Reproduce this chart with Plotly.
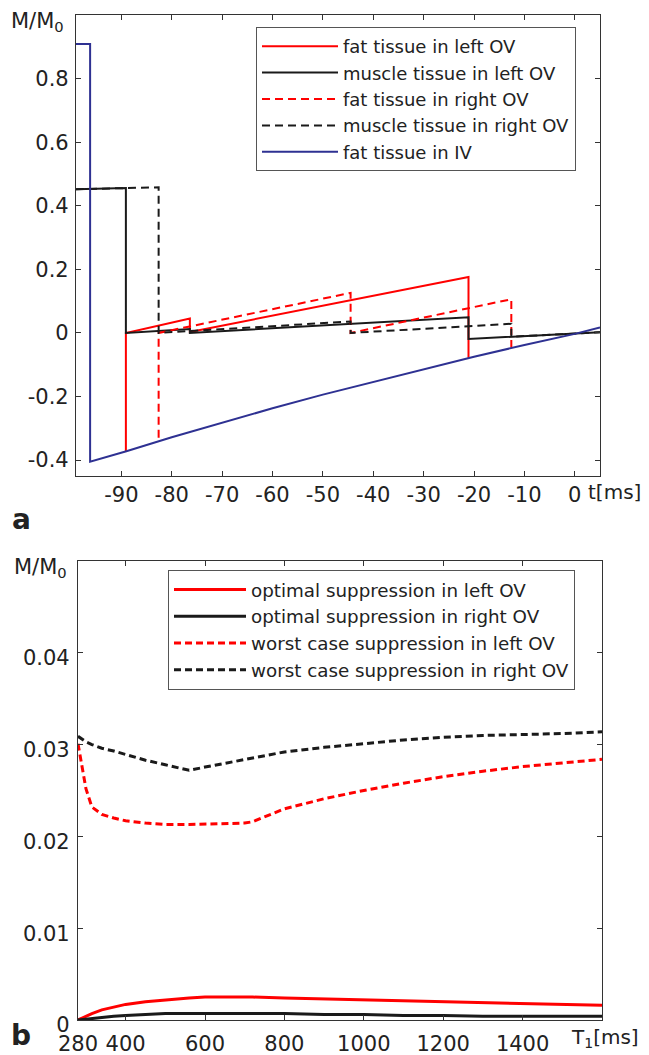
import plotly.graph_objects as go

# ---------------- Panel a data (t in ms, M/M0) ----------------
fat_left_t = [-89.1, -89.1, -76.4, -76.4, -21.1, -21.1]
fat_left_v = [-0.372, 0.0, 0.045, 0.003, 0.176, -0.078]

muscle_left_t = [-99, -89.1, -89.1, -76.4, -76.4, -21.1, -21.1, -12.6, 5]
muscle_left_v = [0.452, 0.456, 0.0, 0.012, 0.0, 0.049, -0.019, -0.012, 0.002]

fat_right_t = [-82.6, -82.6, -44.5, -44.5, -12.6, -12.6]
fat_right_v = [-0.33, 0.0, 0.126, 0.0, 0.106, -0.046]

muscle_right_t = [-99, -82.6, -82.6, -44.5, -44.5, -12.6, -12.6, 5]
muscle_right_v = [0.452, 0.458, 0.0, 0.036, 0.0, 0.029, -0.012, 0.002]

fat_iv_t = [-99, -96.2, -96.2, -89, -80, -70, -60, -50, -40, -30, -20, -10, 0, 5]
fat_iv_v = [0.909, 0.909, -0.405, -0.372, -0.328, -0.282, -0.237, -0.194, -0.154, -0.114, -0.075, -0.038, -0.003, 0.017]

a_xticks = [-90, -80, -70, -60, -50, -40, -30, -20, -10, 0]
a_xticklabels = ["-90", "-80", "-70", "-60", "-50", "-40", "-30", "-20", "-10", "0"]
a_yticks = [-0.4, -0.2, 0, 0.2, 0.4, 0.6, 0.8]
a_yticklabels = ["-0.4", "-0.2", "0", "0.2", "0.4", "0.6", "0.8"]

# ---------------- Panel b data (T1 in ms, M/M0) ----------------
T1 = [280, 290, 300, 315, 340, 370, 400, 450, 500, 560, 600, 700, 720, 800, 900, 1000,
      1100, 1200, 1300, 1400, 1500, 1600]
opt_left = [0.0, 0.0002, 0.0004, 0.0007, 0.0011, 0.0014, 0.0017, 0.0020, 0.0022, 0.0024, 0.0025,
            0.0025, 0.0025, 0.0024, 0.0023, 0.0022, 0.0021, 0.0020, 0.0019, 0.0018, 0.0017, 0.0016]
opt_right = [0.0, 0.00005, 0.0001, 0.0002, 0.0003, 0.0004, 0.0005, 0.0006, 0.0007, 0.0007, 0.0007,
             0.0007, 0.0007, 0.0007, 0.0006, 0.0006, 0.0005, 0.0005, 0.0004, 0.0004, 0.0004, 0.0004]
worst_left = [0.0301, 0.0275, 0.0252, 0.0232, 0.0224, 0.0220, 0.0217, 0.02145, 0.0213, 0.0213, 0.02132,
              0.02145, 0.0216, 0.0230, 0.0241, 0.0250, 0.0258, 0.0265, 0.0271, 0.0276, 0.0280, 0.0284]
worst_right = [0.0309, 0.0306, 0.0303, 0.0300, 0.0296, 0.0293, 0.0289, 0.0283, 0.0278, 0.0272, 0.02755,
               0.02835, 0.0285, 0.0292, 0.0297, 0.0301, 0.0305, 0.0308, 0.0310, 0.0311, 0.0312, 0.0314]

b_xticks = [280, 400, 600, 800, 1000, 1200, 1400]
b_xticklabels = ["280", "400", "600", "800", "1000", "1200", "1400"]
b_yticks = [0, 0.01, 0.02, 0.03, 0.04]
b_yticklabels = ["0", "0.01", "0.02", "0.03", "0.04"]

# The page body adds an 8 px margin, so the figure is made 8 px smaller and
# screen positions are converted to figure-paper fractions.
OX, OY = 8, 8
W, H = 649 - OX, 1055 - OY


def fx(px):
    return (px - OX) / W


def fy(py):
    return 1 - (py - OY) / H


RED = "#ff0000"
BLK = "#1a1a1a"
BLUE = "#2e3192"
FONT = "DejaVu Sans"
TXT = "#222222"

fig = go.Figure()

# panel a traces
fig.add_trace(go.Scatter(x=fat_left_t, y=fat_left_v, mode="lines", name="fat tissue in left OV",
                         line=dict(color=RED, width=2), xaxis="x", yaxis="y", legend="legend"))
fig.add_trace(go.Scatter(x=muscle_left_t, y=muscle_left_v, mode="lines", name="muscle tissue in left OV",
                         line=dict(color=BLK, width=2), xaxis="x", yaxis="y", legend="legend"))
fig.add_trace(go.Scatter(x=fat_right_t, y=fat_right_v, mode="lines", name="fat tissue in right OV",
                         line=dict(color=RED, width=2, dash="8px,5px"), xaxis="x", yaxis="y", legend="legend"))
fig.add_trace(go.Scatter(x=muscle_right_t, y=muscle_right_v, mode="lines", name="muscle tissue in right OV",
                         line=dict(color=BLK, width=2, dash="8px,5px"), xaxis="x", yaxis="y", legend="legend"))
fig.add_trace(go.Scatter(x=fat_iv_t, y=fat_iv_v, mode="lines", name="fat tissue in IV",
                         line=dict(color=BLUE, width=2), xaxis="x", yaxis="y", legend="legend"))

# panel b traces
fig.add_trace(go.Scatter(x=T1, y=opt_left, mode="lines", name="optimal suppression in left OV",
                         line=dict(color=RED, width=3), xaxis="x2", yaxis="y2", legend="legend2"))
fig.add_trace(go.Scatter(x=T1, y=opt_right, mode="lines", name="optimal suppression in right OV",
                         line=dict(color=BLK, width=3), xaxis="x2", yaxis="y2", legend="legend2"))
fig.add_trace(go.Scatter(x=T1, y=worst_left, mode="lines", name="worst case suppression in left OV",
                         line=dict(color=RED, width=3, dash="7px,4px"), xaxis="x2", yaxis="y2", legend="legend2"))
fig.add_trace(go.Scatter(x=T1, y=worst_right, mode="lines", name="worst case suppression in right OV",
                         line=dict(color=BLK, width=3, dash="7px,4px"), xaxis="x2", yaxis="y2", legend="legend2"))

tickfont = dict(family=FONT, size=21, color=TXT)
axis_common = dict(showline=True, linecolor="#333", linewidth=1.2, mirror="ticks", ticks="inside",
                   ticklen=5, tickcolor="#333", tickwidth=1.2, showgrid=False, zeroline=False,
                   tickfont=tickfont, automargin=False)

fig.update_layout(
    template="none",
    width=W, height=H, autosize=False, margin=dict(l=0, r=0, t=0, b=0, pad=0),
    paper_bgcolor="white", plot_bgcolor="white",
    font=dict(family=FONT, color=TXT),
    xaxis=dict(domain=[fx(76), fx(600)], anchor="y", range=[-99, 5], tickmode="array",
               tickvals=a_xticks, ticktext=a_xticklabels, ticklabelstandoff=0, **axis_common),
    yaxis=dict(domain=[fy(476), fy(15)], anchor="x", range=[-0.45, 1.0], tickmode="array",
               tickvals=a_yticks, ticktext=a_yticklabels, ticklabelstandoff=2, **axis_common),
    xaxis2=dict(domain=[fx(78), fx(602)], anchor="y2", range=[280, 1600], tickmode="array",
                tickvals=b_xticks, ticktext=b_xticklabels, ticklabelstandoff=5, **axis_common),
    yaxis2=dict(domain=[fy(1020), fy(561)], anchor="x2", range=[0, 0.05], tickmode="array",
                tickvals=b_yticks, ticktext=b_yticklabels, ticklabelstandoff=3, ticklabelshift=5,
                **axis_common),
    legend=dict(x=fx(256), y=fy(27), xanchor="left", yanchor="top", bgcolor="white",
                bordercolor="#555", borderwidth=1, itemwidth=76,
                font=dict(family=FONT, size=18, color=TXT)),
    legend2=dict(x=fx(168), y=fy(570), xanchor="left", yanchor="top", bgcolor="white",
                 bordercolor="#555", borderwidth=1, itemwidth=72,
                 font=dict(family=FONT, size=18.3, color=TXT)),
    showlegend=True,
)

ann_font = dict(family=FONT, size=21, color=TXT)
fig.add_annotation(text="M/M<sub>0</sub>", x=fx(9), y=fy(22), xref="paper", yref="paper",
                   xanchor="left", yanchor="middle", showarrow=False, font=ann_font)
fig.add_annotation(text="M/M<sub>0</sub>", x=fx(12), y=fy(568), xref="paper", yref="paper",
                   xanchor="left", yanchor="middle", showarrow=False, font=ann_font)
fig.add_annotation(text="t[ms]", x=fx(586), y=fy(492), xref="paper", yref="paper",
                   xanchor="left", yanchor="middle", showarrow=False,
                   font=dict(family=FONT, size=20, color=TXT))
fig.add_annotation(text="T<sub>1</sub>[ms]", x=fx(569), y=fy(1038), xref="paper", yref="paper",
                   xanchor="left", yanchor="middle", showarrow=False,
                   font=dict(family=FONT, size=20, color=TXT))
fig.add_annotation(text="<b>a</b>", x=fx(21), y=fy(519), xref="paper", yref="paper",
                   xanchor="center", yanchor="middle", showarrow=False,
                   font=dict(family=FONT, size=28, color=TXT))
fig.add_annotation(text="<b>b</b>", x=fx(21), y=fy(1035), xref="paper", yref="paper",
                   xanchor="center", yanchor="middle", showarrow=False,
                   font=dict(family=FONT, size=28, color=TXT))

fig.write_html("out.html")
